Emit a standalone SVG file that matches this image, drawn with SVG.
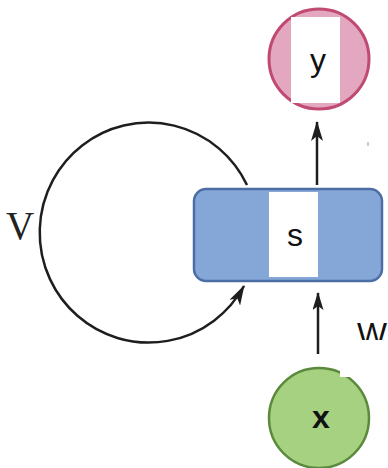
<svg xmlns="http://www.w3.org/2000/svg" width="388" height="468" viewBox="0 0 388 468">
  <style>
    .lbl { font-family: "Liberation Sans", Arial, sans-serif; font-size: 32px; fill: #111; text-anchor: middle; }
    .edge { fill: none; stroke: #1e1e1e; stroke-width: 2.5; }
    .mask { fill: #ffffff; }
  </style>
  <defs>
    <marker id="head" viewBox="0 0 20 12" refX="19" refY="6" markerWidth="20" markerHeight="12" markerUnits="userSpaceOnUse" orient="auto">
      <path d="M0,0 L20,6 L0,12 L5,6 Z" fill="#1e1e1e"/>
    </marker>
    <marker id="headSmall" viewBox="0 0 18 11" refX="17" refY="5.5" markerWidth="18" markerHeight="11" markerUnits="userSpaceOnUse" orient="auto">
      <path d="M0,0 L18,5.5 L0,11 L4,5.5 Z" fill="#1e1e1e"/>
    </marker>
  </defs>

  <!-- connectors -->
  <g id="connectors">
    <path id="loop-v" class="edge" d="M 247 185 A 109 110 0 1 0 244 286" marker-end="url(#head)"/>
    <line id="s-to-y" class="edge" x1="317" y1="185" x2="317" y2="122" marker-end="url(#head)"/>
    <line id="x-to-s" class="edge" x1="318" y1="354" x2="318" y2="293" marker-end="url(#headSmall)"/>
    <text id="label-v" x="20" y="239" font-family="Liberation Serif, Times New Roman, serif" font-size="39" fill="#222" text-anchor="middle">V</text>
    <rect class="mask" x="340" y="305" width="48" height="72"/>
    <text id="label-w" x="357" y="345" font-family="Liberation Sans, Arial, sans-serif" font-size="32" fill="#111" textLength="30" lengthAdjust="spacingAndGlyphs">W</text>
    <line x1="368" y1="142" x2="368" y2="146" stroke="#999" stroke-width="1"/>
  </g>

  <!-- output node -->
  <g id="node-y">
    <circle cx="319" cy="59" r="50" fill="#e3a7bf" stroke="#c04a72" stroke-width="3"/>
    <rect class="mask" x="291" y="17" width="49" height="86"/>
    <text class="lbl" x="318" y="71">y</text>
  </g>

  <!-- hidden state node -->
  <g id="node-s">
    <rect x="194" y="189" width="188" height="92" rx="12" ry="12" fill="#84a7d7" stroke="#4b6ea5" stroke-width="2.5"/>
    <rect class="mask" x="269" y="192" width="49" height="85"/>
    <text class="lbl" x="295" y="246">s</text>
  </g>

  <!-- input node -->
  <g id="node-x">
    <circle cx="319" cy="418" r="50" fill="#a6d180" stroke="#5b8a3d" stroke-width="2.5"/>
    <rect class="mask" x="340" y="340" width="48" height="37"/>
    <text class="lbl" x="321" y="428" font-weight="bold" font-size="30">x</text>
  </g>
</svg>
